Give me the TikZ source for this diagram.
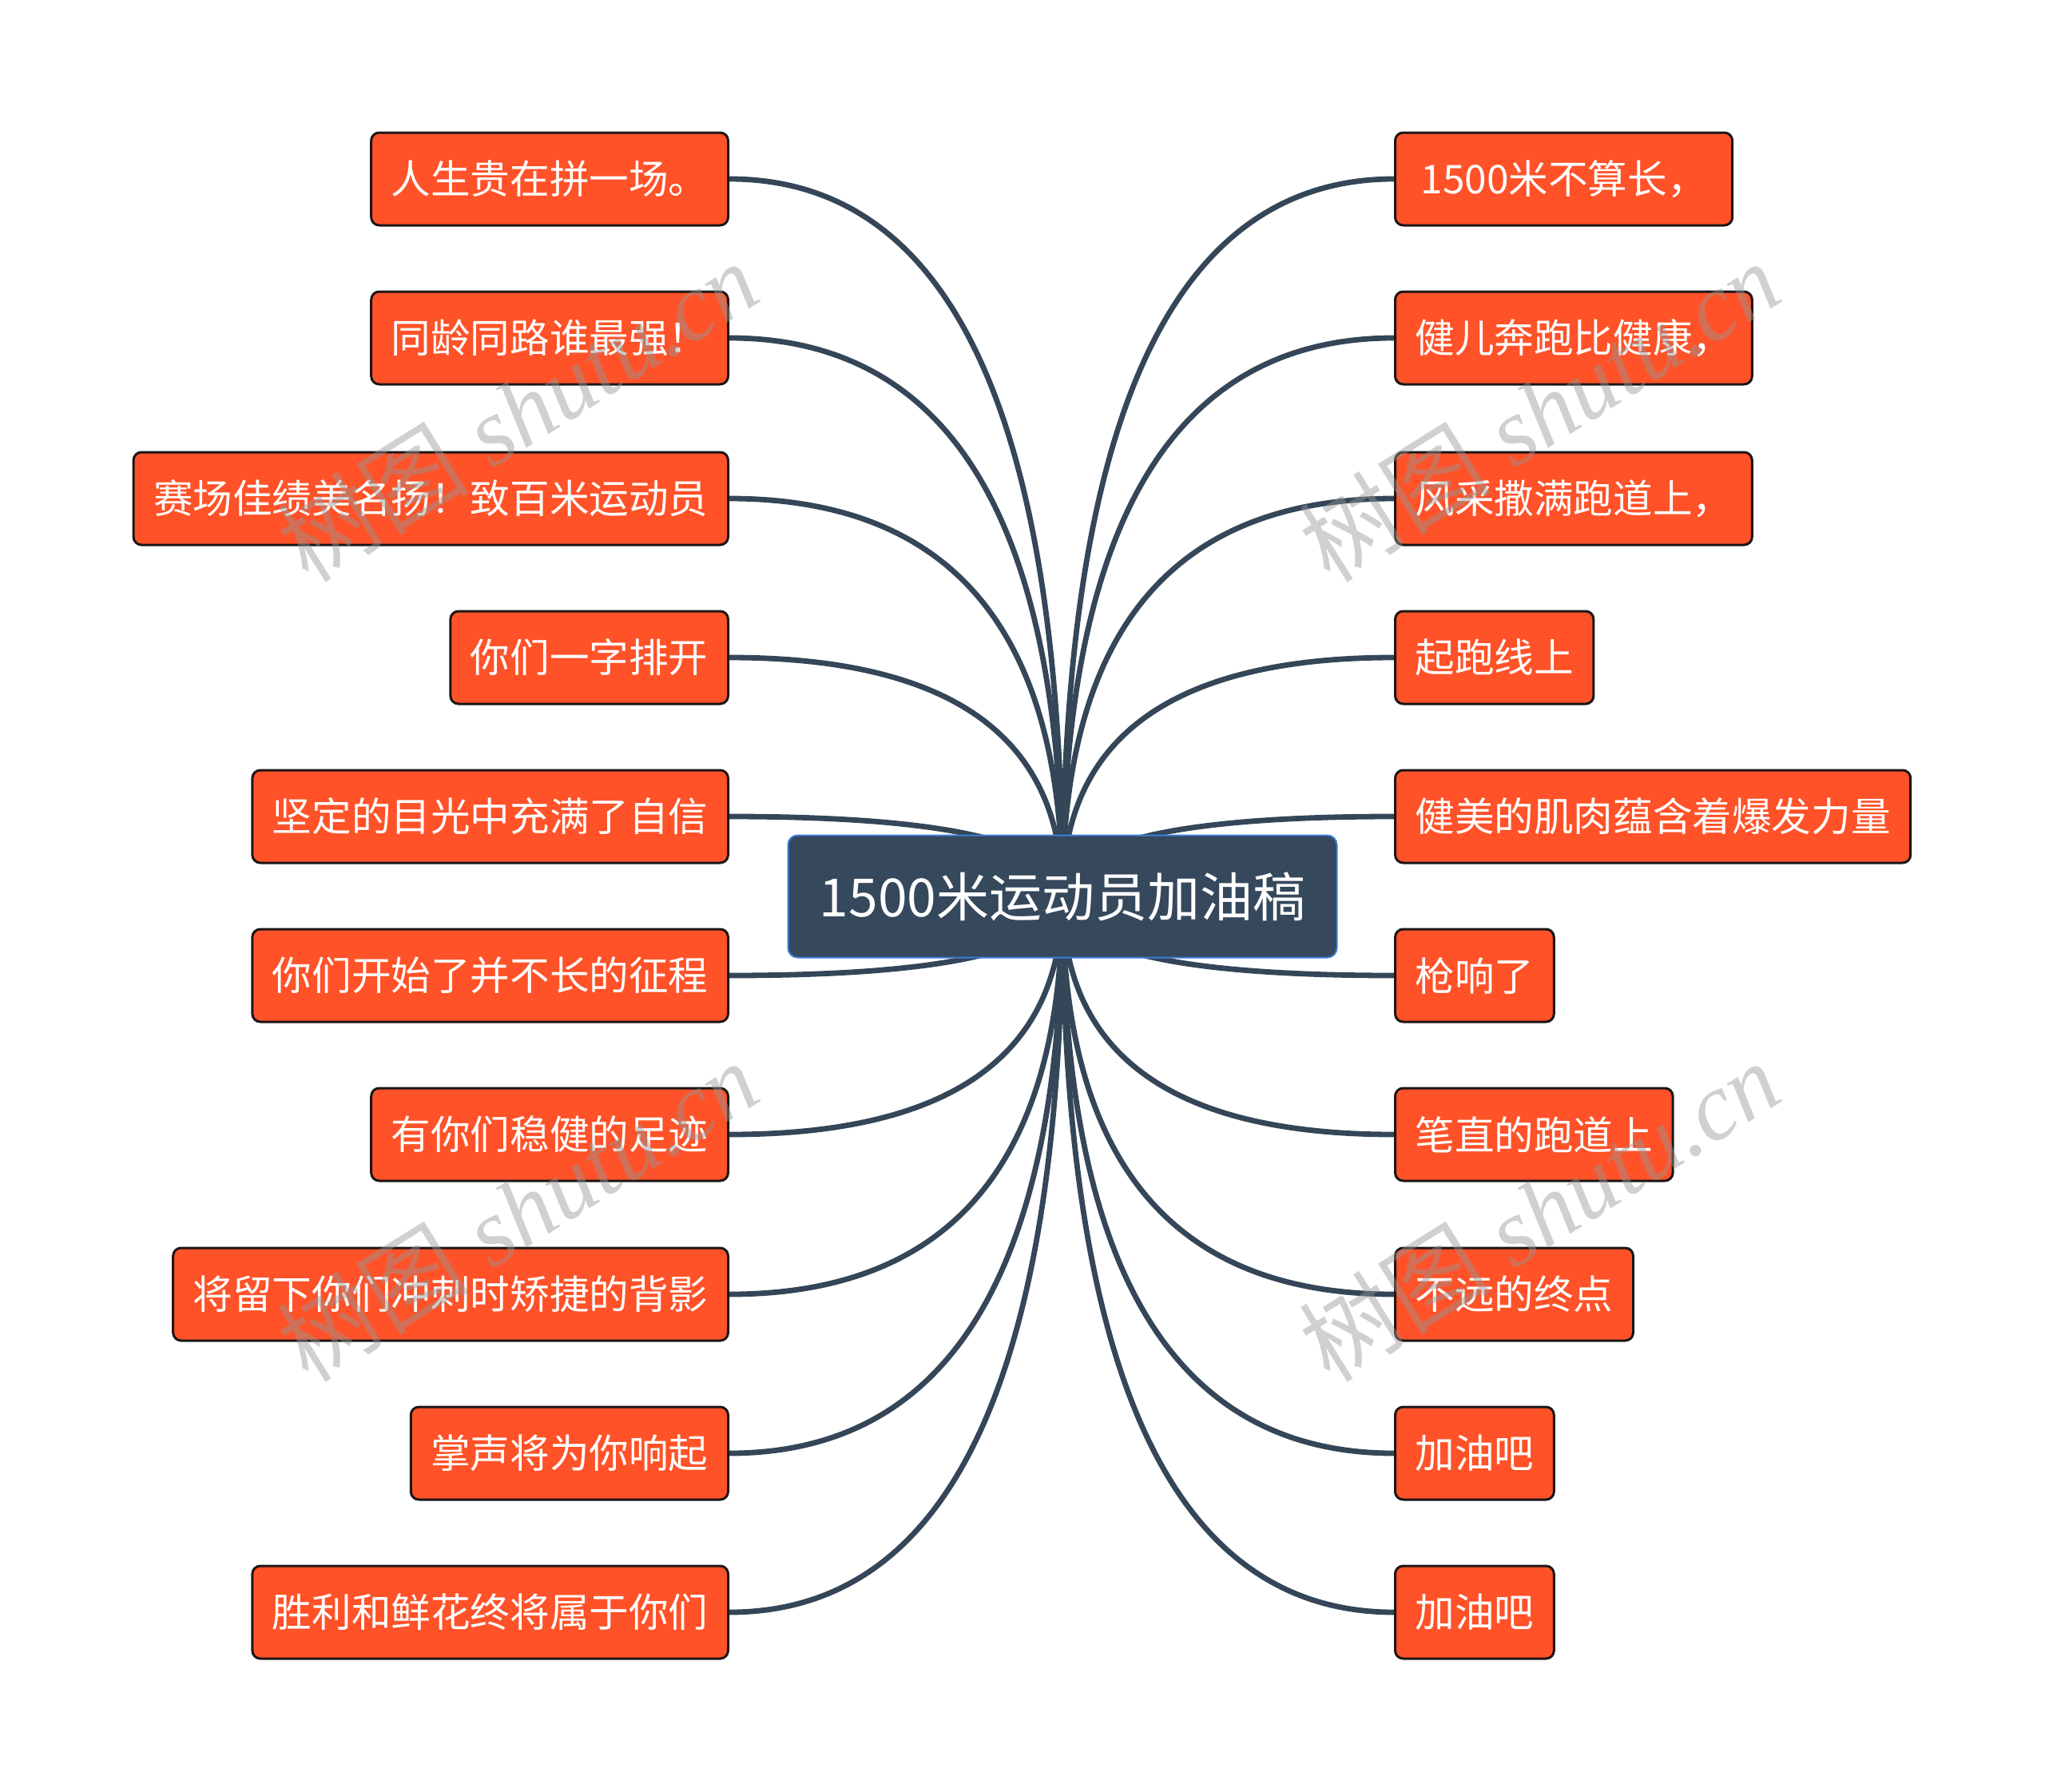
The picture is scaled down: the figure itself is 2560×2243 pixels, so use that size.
\documentclass[tikz,border=0pt]{standalone}
\usepackage{fontspec}
\setmainfont{Liberation Serif}
\newfontfamily\cjk{Noto Sans CJK SC}
\usetikzlibrary{calc}
\definecolor{leaffill}{RGB}{255,82,40}
\definecolor{leafline}{RGB}{28,22,22}
\definecolor{rootfill}{RGB}{53,72,92}
\definecolor{rootline}{RGB}{62,125,215}
\definecolor{connc}{RGB}{52,70,88}
\definecolor{wmark}{RGB}{150,150,150}
\pgfdeclarelayer{background}
\pgfsetlayers{background,main}
\begin{document}
\begin{tikzpicture}[x=0.5pt,y=-0.5pt]
\tikzset{
  leafbox/.style={draw=leafline, line width=1.5pt, fill=leaffill, rounded corners=5pt,
    text=white, font=\cjk\fontsize{24.8pt}{30pt}\selectfont, inner xsep=12.5pt, inner ysep=0pt,
    minimum height=58pt},
  rootbox/.style={draw=rootline, line width=1pt, fill=rootfill, rounded corners=6pt,
    text=white, font=\cjk\fontsize{33pt}{40pt}\selectfont, minimum width=343.5pt,
    minimum height=76.5pt, inner sep=0pt},
  connline/.style={draw=connc, line width=3.4pt},
  wm/.style={text=wmark, opacity=0.45, rotate=32, font=\fontsize{60pt}{60pt}\selectfont}
}
\useasboundingbox (0,0) rectangle (2560,2243);
\node[rootbox] (root) at (1330,1122) {1500米运动员加油稿};
% left
\node[leafbox, anchor=east] (L1) at (913,224) {人生贵在拼一场。};
\node[leafbox, anchor=east] (L2) at (913,423) {同龄同路谁最强！};
\node[leafbox, anchor=east] (L3) at (913,624) {赛场佳绩美名扬！致百米运动员};
\node[leafbox, anchor=east] (L4) at (913,823) {你们一字排开};
\node[leafbox, anchor=east] (L5) at (913,1022) {坚定的目光中充满了自信};
\node[leafbox, anchor=east] (L6) at (913,1221) {你们开始了并不长的征程};
\node[leafbox, anchor=east] (L7) at (913,1420) {有你们稳健的足迹};
\node[leafbox, anchor=east] (L8) at (913,1620) {将留下你们冲刺时矫捷的背影};
\node[leafbox, anchor=east] (L9) at (913,1819) {掌声将为你响起};
\node[leafbox, anchor=east] (L10) at (913,2018) {胜利和鲜花终将属于你们};
% right
\node[leafbox, anchor=west, inner xsep=16pt] (R1) at (1745,224) {1500米不算长，};
\node[leafbox, anchor=west] (R2) at (1745,423) {健儿奔跑比健康，};
\node[leafbox, anchor=west] (R3) at (1745,624) {风采撒满跑道上，};
\node[leafbox, anchor=west] (R4) at (1745,823) {起跑线上};
\node[leafbox, anchor=west] (R5) at (1745,1022) {健美的肌肉蕴含着爆发力量};
\node[leafbox, anchor=west] (R6) at (1745,1221) {枪响了};
\node[leafbox, anchor=west] (R7) at (1745,1420) {笔直的跑道上};
\node[leafbox, anchor=west] (R8) at (1745,1620) {不远的终点};
\node[leafbox, anchor=west] (R9) at (1745,1819) {加油吧};
\node[leafbox, anchor=west] (R10) at (1745,2018) {加油吧};
\begin{pgfonlayer}{background}
\foreach \n in {L1,L2,L3,L4,L5,L6,L7,L8,L9,L10} {
  \draw[connline] (\n.east) .. controls ($(\n.east)!0.667!(root.center |- \n.east)$)
    and ($(root.center)!0.667!(root.center |- \n.east)$) .. (root.center);
}
\foreach \n in {R1,R2,R3,R4,R5,R6,R7,R8,R9,R10} {
  \draw[connline] (\n.west) .. controls ($(\n.west)!0.667!(root.center |- \n.west)$)
    and ($(root.center)!0.667!(root.center |- \n.west)$) .. (root.center);
}
\end{pgfonlayer}
% watermarks
\node[wm] (w1) at (648,514) {{\cjk 树图} \itshape shutu.cn};
\node[wm] (w2) at (648,1515) {{\cjk 树图} \itshape shutu.cn};
\node[wm] (w3) at (1927,514) {{\cjk 树图} \itshape shutu.cn};
\node[wm] (w4) at (1927,1515) {{\cjk 树图} \itshape shutu.cn};
\end{tikzpicture}
\end{document}
